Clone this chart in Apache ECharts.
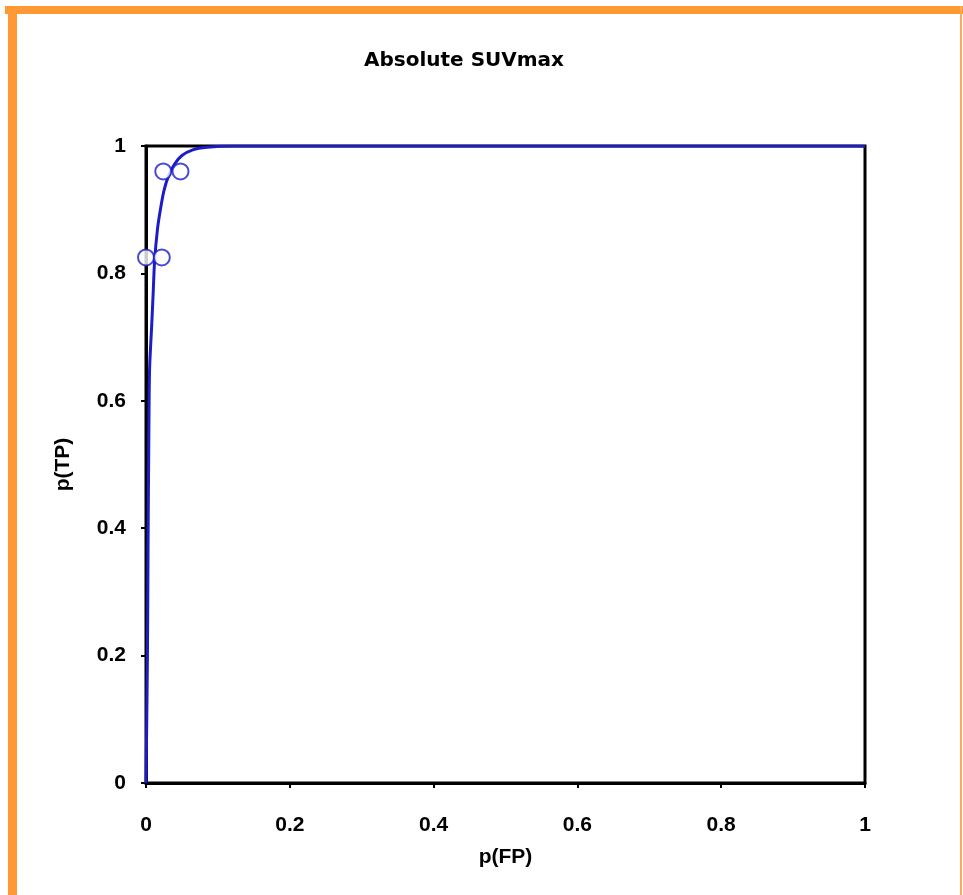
<!DOCTYPE html>
<html>
<head>
<meta charset="utf-8">
<script src="https://cdn.jsdelivr.net/npm/echarts@6/dist/echarts.min.js"></script>
<style>
  html, body { margin: 0; padding: 0; background: #fff; }
  #chart { width: 963px; height: 895px; }
</style>
</head>
<body>
<div id="chart"></div>
<script>
// ROC curve (p(FP), p(TP))
var rocCurve = [
  [0, 0], [0.002, 0.2], [0.003, 0.4], [0.004, 0.55], [0.005, 0.65],
  [0.008, 0.72], [0.01, 0.77], [0.012, 0.82], [0.016, 0.87], [0.02, 0.9],
  [0.025, 0.93], [0.032, 0.955], [0.04, 0.972], [0.05, 0.985], [0.065, 0.994],
  [0.085, 0.998], [0.12, 1], [1, 1]
];
// observed operating points
var opPoints = [
  [0, 0.825], [0.022, 0.825], [0.024, 0.96], [0.048, 0.96]
];

var chart = echarts.init(document.getElementById('chart'));
var labelFont = '"Liberation Sans", Arial, sans-serif';

var option = {
  backgroundColor: '#fff',
  animation: false,
  title: {
    text: 'Absolute SUVmax',
    left: 459,
    top: 46,
    textAlign: 'center',
    textStyle: {
      fontFamily: '"DejaVu Sans", Verdana, sans-serif',
      fontWeight: 'bold',
      fontSize: 20,
      color: '#000'
    }
  },
  graphic: [{
    // orange frame: top bar, left bar, thin right edge
    type: 'rect',
    shape: { x: 5, y: 6, width: 958, height: 8 },
    style: { fill: '#ff9933' },
    silent: true
  }, {
    type: 'rect',
    shape: { x: 8, y: 6, width: 9, height: 889 },
    style: { fill: '#ff9933' },
    silent: true
  }, {
    type: 'rect',
    shape: { x: 960, y: 6, width: 2, height: 889 },
    style: { fill: '#ffaa55' },
    silent: true
  }],
  grid: {
    left: 146, top: 146, right: 98, bottom: 112,
    show: true,
    borderColor: '#000',
    borderWidth: 3,
    backgroundColor: '#fff'
  },
  xAxis: {
    type: 'value',
    min: 0, max: 1, interval: 0.2,
    name: 'p(FP)',
    nameLocation: 'middle',
    nameGap: 64,
    nameTextStyle: { fontFamily: labelFont, fontWeight: 'bold', fontSize: 21, color: '#000' },
    axisLine: { show: true, lineStyle: { color: '#000', width: 3 } },
    axisTick: { show: true, inside: false, length: 5, lineStyle: { color: '#000', width: 2 } },
    splitLine: { show: false },
    axisLabel: {
      margin: 32,
      fontFamily: labelFont, fontWeight: 'bold', fontSize: 21, color: '#000',
      formatter: function (v) { return String(+v.toFixed(1)); }
    }
  },
  yAxis: {
    type: 'value',
    min: 0, max: 1, interval: 0.2,
    name: 'p(TP)',
    nameLocation: 'middle',
    nameGap: 72,
    nameTextStyle: { fontFamily: labelFont, fontWeight: 'bold', fontSize: 21, color: '#000' },
    axisLine: { show: true, lineStyle: { color: '#000', width: 3 } },
    axisTick: { show: true, inside: false, length: 5, lineStyle: { color: '#000', width: 2 } },
    splitLine: { show: false },
    axisLabel: {
      margin: 20,
      fontFamily: labelFont, fontWeight: 'bold', fontSize: 21, color: '#000',
      formatter: function (v) { return String(+v.toFixed(1)); }
    }
  },
  series: [{
    type: 'line',
    data: rocCurve,
    smooth: 0.3,
    symbol: 'none',
    lineStyle: { color: '#1c1cc8', width: 3 },
    z: 3
  }, {
    type: 'scatter',
    data: opPoints,
    symbol: 'circle',
    symbolSize: 16,
    itemStyle: { color: '#fff', borderColor: '#1c1cc8', borderWidth: 2 },
    z: 4
  }]
};
chart.setOption(option);
</script>
</body>
</html>
